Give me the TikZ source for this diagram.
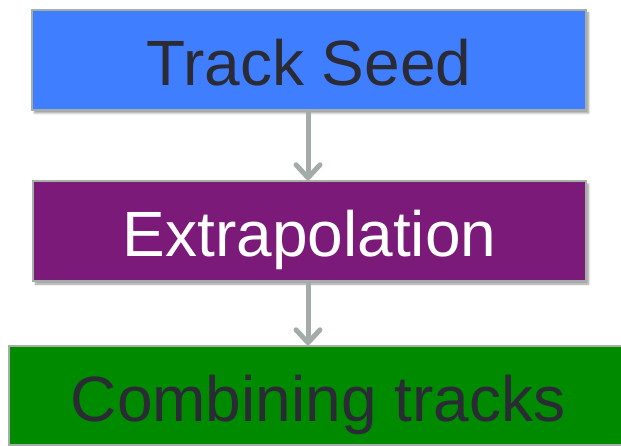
\documentclass[tikz,border=0pt]{standalone}
\usepackage{fontspec}
\setmainfont{Liberation Sans}
\usepackage{tikz}
\usetikzlibrary{arrows.meta}
\usetikzlibrary{shadows.blur}

\definecolor{seedblue}{HTML}{3F7FFF}
\definecolor{extrappurple}{HTML}{7B1A78}
\definecolor{combinegreen}{HTML}{008A00}
\definecolor{boxborder}{HTML}{A6AEA8}
\definecolor{darktext}{HTML}{2B2B35}
\definecolor{arrowgray}{HTML}{A3ACA8}

\tikzset{
    stagebox/.style={draw=boxborder, line width=1.5pt, rectangle, inner sep=0pt,
        text height=52pt, text depth=0pt, font=\fontsize{64}{70}\selectfont,
        blur shadow={shadow xshift=2.5pt, shadow yshift=-3pt, shadow opacity=40, shadow blur steps=6}},
    flowarrow/.style={draw=arrowgray, line width=5pt, -{Straight Barb[length=13pt, width=24pt, round]}}
}

\begin{document}
\begin{tikzpicture}[x=1pt, y=-1pt]
        \useasboundingbox (0,0) rectangle (621,446);

        \node[stagebox, fill=seedblue, text=darktext, minimum width=554pt, minimum height=100pt] (seed) at (309,60) {Track Seed};
        \node[stagebox, fill=extrappurple, text=white, minimum width=553pt, minimum height=100pt] (extrap) at (309.5,231) {Extrapolation};
        \node[stagebox, fill=combinegreen, text=darktext, minimum width=640pt, minimum height=99pt] (combine) at (329,395.5) {\hspace*{-22pt}Combining tracks};

        \draw[flowarrow] (seed.south -| 308,0) -- (extrap.north -| 308,0);
        \draw[flowarrow] (extrap.south -| 308,0) -- (combine.north -| 308,0);
    \end{tikzpicture}
\end{document}
